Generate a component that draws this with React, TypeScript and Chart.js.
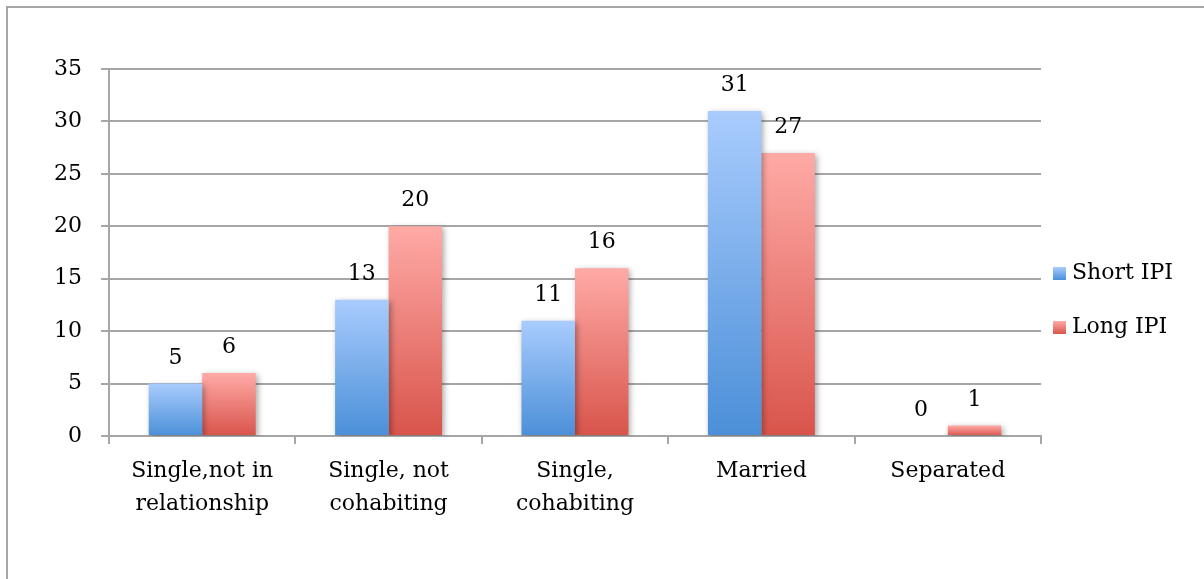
import React, { useEffect, useRef } from "react";
import { Chart, registerables } from "chart.js";

Chart.register(...registerables);

const categories: (string | string[])[] = [
  ["Single,not in", "relationship"],
  ["Single, not", "cohabiting"],
  ["Single,", "cohabiting"],
  "Married",
  "Separated",
];
const shortIPI = [5, 13, 11, 31, 0];
const longIPI = [6, 20, 16, 27, 1];
const seriesNames = ["Short IPI", "Long IPI"];
const yTicksMin = 0;
const yTicksMax = 35;
const yTickStep = 5;

const FONT = "'DejaVu Serif', 'Liberation Serif', serif";
const FONT_SIZE = 22;
const GRID = "#a6a6a6";

const palettes = [
  { top: "#a9ccfd", bottom: "#4b8fd8" },
  { top: "#ffaaa6", bottom: "#d8544b" },
];

function barGradient(idx: number) {
  return (c: any) => {
    const chart = c.chart;
    const y = chart.scales?.y;
    if (!y || c.type !== "data") return palettes[idx].top;
    const v = c.raw as number;
    const yTop = y.getPixelForValue(v);
    const yBot = y.getPixelForValue(0);
    if (!isFinite(yTop) || !isFinite(yBot) || yTop === yBot) return palettes[idx].bottom;
    const g = chart.ctx.createLinearGradient(0, yTop, 0, yBot);
    g.addColorStop(0, palettes[idx].top);
    g.addColorStop(1, palettes[idx].bottom);
    return g;
  };
}

const shadowPlugin = {
  id: "barShadow",
  beforeDatasetsDraw(chart: any) {
    const ctx = chart.ctx;
    ctx.save();
    ctx.shadowColor = "rgba(0,0,0,0.35)";
    ctx.shadowBlur = 6;
    ctx.shadowOffsetX = 2;
    ctx.shadowOffsetY = 2;
  },
  afterDatasetsDraw(chart: any) {
    chart.ctx.restore();
  },
};

const labelPlugin = {
  id: "valueLabels",
  afterDatasetsDraw(chart: any) {
    const ctx = chart.ctx;
    ctx.save();
    ctx.font = `${FONT_SIZE}px ${FONT}`;
    ctx.fillStyle = "#000";
    ctx.textAlign = "center";
    ctx.textBaseline = "alphabetic";
    chart.data.datasets.forEach((ds: any, i: number) => {
      const meta = chart.getDatasetMeta(i);
      meta.data.forEach((el: any, j: number) => {
        ctx.fillText(String(ds.data[j]), el.x, el.y - 20);
      });
    });
    ctx.restore();
  },
};

const legendBoxPlugin = {
  id: "legendBoxes",
  afterDraw(chart: any) {
    const lg = chart.legend;
    if (!lg || !lg.legendHitBoxes) return;
    const ctx = chart.ctx;
    ctx.save();
    lg.legendHitBoxes.forEach((hb: any, i: number) => {
      const s = 13;
      const x = hb.left;
      const y = hb.top + (hb.height - s) / 2;
      const g = ctx.createLinearGradient(0, y, 0, y + s);
      g.addColorStop(0, palettes[i].top);
      g.addColorStop(1, palettes[i].bottom);
      ctx.fillStyle = g;
      ctx.fillRect(x, y, s, s);
    });
    ctx.restore();
  },
};

export default function App() {
  const ref = useRef<HTMLCanvasElement | null>(null);
  useEffect(() => {
    document.body.style.margin = "0";
    document.body.style.overflow = "hidden";
    const chart = new Chart(ref.current!, {
      type: "bar",
      data: {
        labels: categories,
        datasets: [
          { label: seriesNames[0], data: shortIPI, backgroundColor: barGradient(0), borderWidth: 0 },
          { label: seriesNames[1], data: longIPI, backgroundColor: barGradient(1), borderWidth: 0 },
        ],
      },
      options: {
        responsive: false,
        animation: false,
        devicePixelRatio: 1,
        layout: { padding: { left: 35, right: 21, top: 69, bottom: 47 } },
        datasets: { bar: { categoryPercentage: 0.574, barPercentage: 1 } },
        plugins: {
          tooltip: { enabled: false },
          legend: {
            position: "right",
            labels: {
              font: { family: FONT, size: FONT_SIZE },
              color: "#000",
              boxWidth: 8,
              boxHeight: 42,
              padding: 12,
              generateLabels: (chart: any) =>
                chart.data.datasets.map((ds: any, i: number) => ({
                  text: ds.label,
                  fillStyle: "rgba(0,0,0,0)",
                  strokeStyle: "rgba(0,0,0,0)",
                  lineWidth: 0,
                  hidden: false,
                  datasetIndex: i,
                  fontColor: "#000",
                })),
            },
          },
        },
        scales: {
          x: {
            grid: { drawOnChartArea: false, drawTicks: true, tickLength: 8, offset: true, color: GRID, lineWidth: 2 },
            border: { color: GRID, width: 2 },
            ticks: { font: { family: FONT, size: FONT_SIZE, lineHeight: 1.5 }, color: "#000", padding: 11, maxRotation: 0 },
          },
          y: {
            min: yTicksMin,
            max: yTicksMax,
            ticks: { stepSize: yTickStep, font: { family: FONT, size: FONT_SIZE }, color: "#000", padding: 19 },
            grid: { color: GRID, lineWidth: 2, tickLength: 8 },
            border: { color: GRID, width: 2 },
          },
        },
      },
      plugins: [shadowPlugin, labelPlugin, legendBoxPlugin],
    } as any);
    return () => chart.destroy();
  }, []);
  return (
    <div style={{ position: "fixed", left: 0, top: 0, width: 1204, height: 579, overflow: "hidden", background: "#fff" }}>
      <div
        style={{
          position: "absolute",
          left: 6,
          top: 6,
          width: 1240,
          height: 640,
          border: "2px solid #a6a6a6",
          boxSizing: "border-box",
        }}
      />
      <canvas ref={ref} width={1204} height={579} style={{ position: "absolute", left: 0, top: 0 }} />
    </div>
  );
}
